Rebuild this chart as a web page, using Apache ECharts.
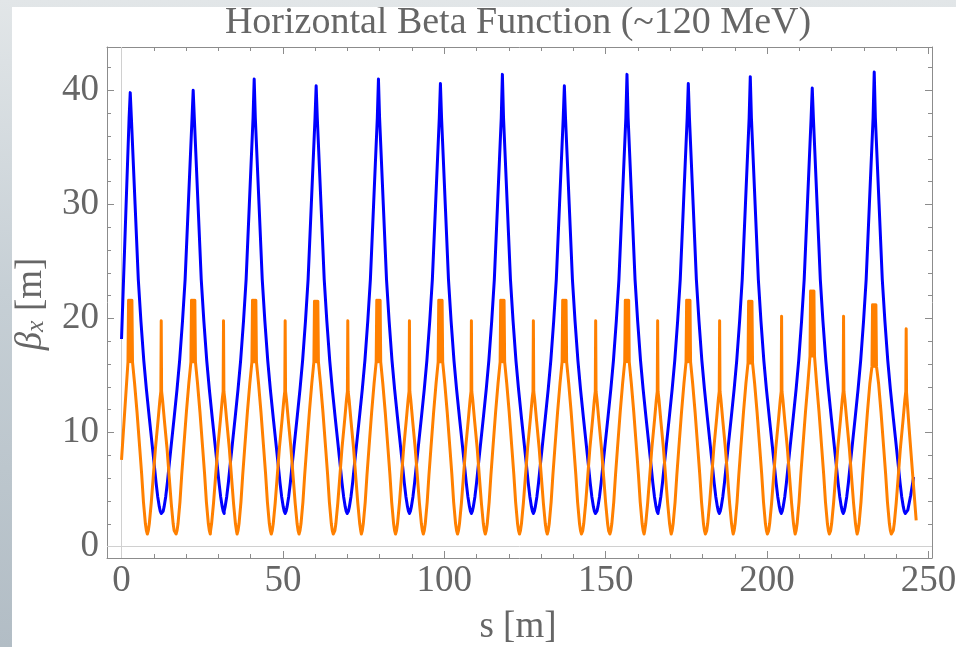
<!DOCTYPE html>
<html>
<head>
<meta charset="utf-8">
<title>Horizontal Beta Function</title>
<script src="https://cdn.jsdelivr.net/npm/echarts@6/dist/echarts.min.js"></script>
<style>
  html, body { margin: 0; padding: 0; }
  body {
    width: 956px; height: 647px; overflow: hidden; position: relative;
    background: linear-gradient(to bottom, #e2e6e8 0%, #c6cfd5 45%, #b2bdc5 100%);
  }
  #chart { position: absolute; left: 12px; top: 7px; width: 944px; height: 640px; background: #fff; }
</style>
</head>
<body>
<div id="chart"></div>
<script>
// ticks
const xTicks = [0, 50, 100, 150, 200, 250];
const xMinorTicks = [10, 20, 30, 40, 60, 70, 80, 90, 110, 120, 130, 140, 160, 170, 180, 190, 210, 220, 230, 240];
const yTicks = [0, 10, 20, 30, 40];
const yMinorTicks = [2, 4, 6, 8, 12, 14, 16, 18, 22, 24, 26, 28, 32, 34, 36, 38, 42];

// s [m] of each cell centre (blue peak / orange wide top)
const cellS = [2.7, 22.2, 41.1, 60.3, 79.6, 98.8, 118.0, 137.2, 156.6, 175.6, 194.8, 214.0, 233.2];
// s [m] of the narrow orange spikes
const spikeS = [12.3, 31.6, 50.7, 70.1, 89.2, 108.4, 127.6, 146.9, 166.1, 185.3, 204.5, 223.7, 243.1];

// blue
const bluePeaks = [39.8, 40.0, 41.0, 40.4, 41.0, 40.6, 41.4, 40.4, 41.4, 40.6, 41.2, 40.2, 41.6];
// [distance from peak, beta] down to the minimum
const blueFlank = [[0.35, 37.6], [1.5, 30.0], [2.5, 23.4], [3.3, 19.8], [4.2, 16.3], [5.0, 13.8],
  [5.9, 11.3], [6.8, 8.9], [7.5, 7.0], [8.0, 5.6], [8.5, 4.4], [9.0, 3.5], [9.3, 3.1], [9.6, 2.9]];
const blueHead = [[0, 18.2], [1.3, 29.0]];
const blueTail = [[243.6, 3.2], [244.5, 4.5], [245.4, 6.1]];

// orange
const bandTops = [21.6, 21.6, 21.6, 21.5, 21.6, 21.6, 21.6, 21.6, 21.6, 21.6, 21.5, 22.4, 21.2];
const bandBottoms = [16.2, 16.2, 16.2, 16.2, 16.2, 16.2, 16.2, 16.2, 16.2, 16.2, 16.1, 16.7, 15.8];
const spikeTops = [19.8, 19.8, 19.8, 19.8, 19.8, 19.8, 19.8, 19.8, 19.8, 19.8, 20.2, 20.2, 19.1];
// wide top drawn as the fast wiggle seen in the plot: [offset, at top?]
const bandSteps = [[-0.7, false], [-0.52, true], [-0.35, false], [-0.17, true], [0, false],
  [0.17, true], [0.35, false], [0.52, true], [0.7, false]];
// [distance from cell centre, beta] down to the minimum
const bandFlank = [[1.35, 14.3], [2.1, 11.8], [2.95, 8.6], [3.55, 6.3], [4.1, 3.9], [4.7, 2.0], [5.0, 1.4], [5.3, 1.1]];
// [distance from spike, beta], far to near
const spikeFlank = [[4.0, 1.4], [3.7, 2.0], [3.1, 3.8], [2.5, 6.0], [1.8, 8.6], [1.0, 11.0], [0.4, 12.9], [0.12, 13.6]];
const orangeHead = [[0, 7.6]];
const orangeTail = [[243.22, 13.5], [244.0, 10.4], [246.2, 2.3]];

function buildBlue () {
  const pts = blueHead.slice();
  cellS.forEach((p, k) => {
    const rise = k === 0 ? blueFlank.slice(0, 1) : blueFlank.slice(0, -1);
    for (let i = rise.length - 1; i >= 0; i--) pts.push([p - rise[i][0], rise[i][1]]);
    pts.push([p, bluePeaks[k]]);
    blueFlank.forEach(f => pts.push([p + f[0], f[1]]));
  });
  return pts.concat(blueTail);
}

function buildOrange () {
  const pts = orangeHead.slice();
  cellS.forEach((p, k) => {
    if (k > 0) {
      for (let i = bandFlank.length - 1; i >= 0; i--) pts.push([p - bandFlank[i][0], bandFlank[i][1]]);
    }
    bandSteps.forEach(b => pts.push([p + b[0], b[1] ? bandTops[k] : bandBottoms[k]]));
    bandFlank.forEach(f => pts.push([p + f[0], f[1]]));
    const c = spikeS[k];
    spikeFlank.forEach(f => pts.push([c - f[0], f[1]]));
    pts.push([c, spikeTops[k]]);
    if (k < cellS.length - 1) {
      for (let i = spikeFlank.length - 1; i >= 0; i--) pts.push([c + spikeFlank[i][0], spikeFlank[i][1]]);
    }
  });
  return pts.concat(orangeTail);
}

const frameColor = '#8c8c8c';
const textColor = '#666666';
const serif = "'Liberation Serif', 'Times New Roman', serif";

function xAxisDef (pos, ticks, len, main) {
  return {
    type: 'value', position: pos, min: -4.5, max: 251.1,
    axisLine: { show: main, onZero: false, lineStyle: { color: frameColor, width: 1 } },
    axisTick: { show: true, inside: true, length: len, customValues: ticks, lineStyle: { color: frameColor, width: 1 } },
    axisLabel: { show: main && pos === 'bottom', customValues: xTicks, margin: 5, color: textColor, fontFamily: serif, fontSize: 37 },
    splitLine: { show: false }
  };
}

function yAxisDef (pos, ticks, len, main) {
  return {
    type: 'value', position: pos, min: -1, max: 43.8,
    axisLine: { show: main, onZero: false, lineStyle: { color: frameColor, width: 1 } },
    axisTick: { show: true, inside: true, length: len, customValues: ticks, lineStyle: { color: frameColor, width: 1 } },
    axisLabel: { show: main && pos === 'left', customValues: yTicks, margin: 8, color: textColor, fontFamily: serif, fontSize: 37 },
    splitLine: { show: false }
  };
}

const chart = echarts.init(document.getElementById('chart'));
const option = {
  animation: false,
  grid: { left: 95, right: 24, top: 40, bottom: 89, outerBoundsMode: 'none', containLabel: false },
  xAxis: [
    xAxisDef('bottom', xTicks, 7, true),
    xAxisDef('bottom', xMinorTicks, 4, false),
    xAxisDef('top', xTicks, 7, true),
    xAxisDef('top', xMinorTicks, 4, false)
  ],
  yAxis: [
    yAxisDef('left', yTicks, 7, true),
    yAxisDef('left', yMinorTicks, 4, false),
    yAxisDef('right', yTicks, 7, true),
    yAxisDef('right', yMinorTicks, 4, false)
  ],
  graphic: [
    {
      type: 'text', x: 506, y: 16.5,
      style: { text: 'Horizontal Beta Function (~120 MeV)', fill: textColor, font: '38px ' + serif, align: 'center', verticalAlign: 'middle' }
    },
    {
      type: 'text', x: 506, y: 620.5,
      style: { text: 's [m]', fill: textColor, font: '37px ' + serif, align: 'center', verticalAlign: 'middle' }
    },
    {
      type: 'text', x: 19, y: 297, rotation: Math.PI / 2,
      style: {
        text: '{b|β}{s|x}{m| [m]}',
        fill: textColor, align: 'center', verticalAlign: 'middle',
        rich: {
          b: { fontFamily: serif, fontSize: 37, fontStyle: 'italic', lineHeight: 37, fill: textColor },
          s: { fontFamily: serif, fontSize: 26, fontStyle: 'italic', lineHeight: 16, verticalAlign: 'bottom', fill: textColor },
          m: { fontFamily: serif, fontSize: 37, lineHeight: 37, fill: textColor }
        }
      }
    }
  ],
  series: [
    {
      type: 'line', data: buildBlue(), symbol: 'none', z: 2,
      lineStyle: { color: '#0000ff', width: 3, join: 'round' },
      emphasis: { disabled: true },
      markLine: {
        silent: true, symbol: 'none', z: 1, label: { show: false },
        lineStyle: { color: '#d0d0d0', width: 1, type: 'solid' },
        data: [{ xAxis: 0 }, { yAxis: 0 }]
      }
    },
    {
      type: 'line', data: buildOrange(), symbol: 'none', z: 3,
      lineStyle: { color: '#ff8000', width: 3, join: 'round' },
      emphasis: { disabled: true }
    }
  ]
};
chart.setOption(option);
</script>
</body>
</html>
